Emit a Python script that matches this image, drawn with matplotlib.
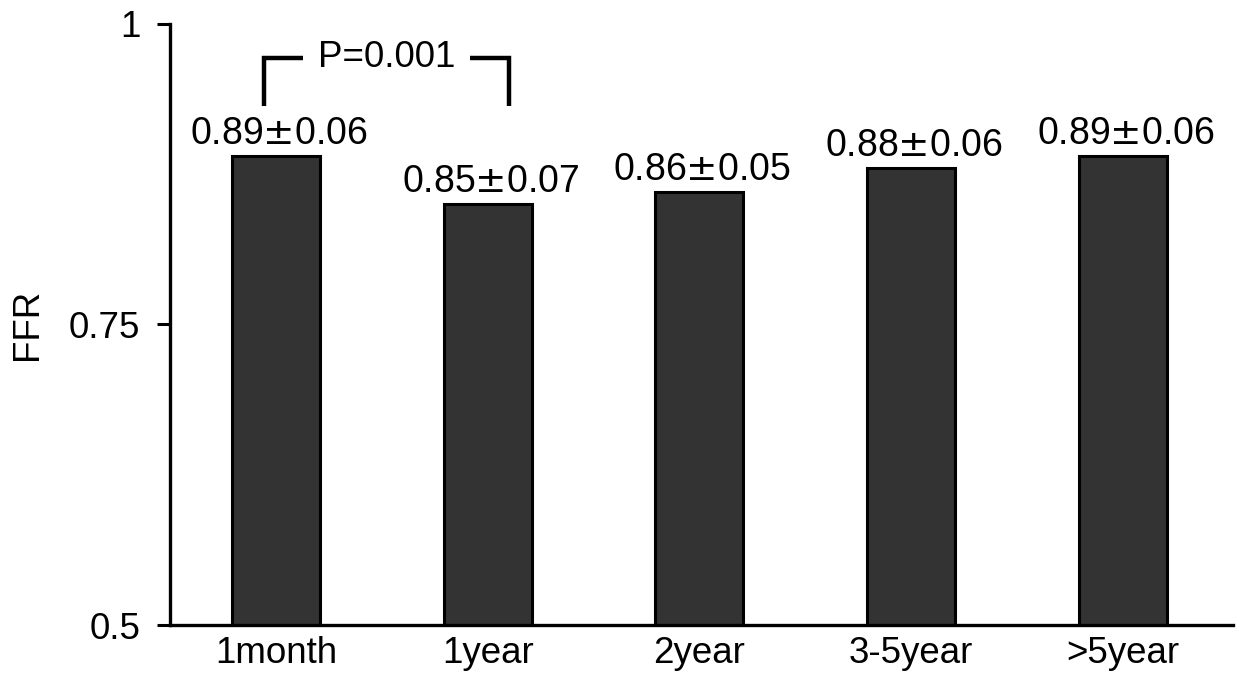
import matplotlib
matplotlib.use('Agg')
import matplotlib.pyplot as plt

plt.rcParams['font.family'] = ['Liberation Sans', 'DejaVu Sans']
plt.rcParams['mathtext.fontset'] = 'dejavusans'

groups = ['1month', '1year', '2year', '3-5year', '>5year']
ffr_mean = [0.89, 0.85, 0.86, 0.88, 0.89]
ffr_sd = [0.06, 0.07, 0.05, 0.06, 0.06]
yticks = [0.5, 0.75, 1.0]
ytick_labels = ['0.5', '0.75', '1']
p_text = 'P=0.001'

fs = 26.5

fig = plt.figure(figsize=(12.44, 6.79), dpi=100)
ax = fig.add_axes([0.1367, 0.0795, 0.8544, 0.8852])

x = list(range(len(groups)))
ax.bar(x, ffr_mean, width=0.415, color='#333333', edgecolor='black',
       linewidth=2.2, zorder=2)

for i, (m, s) in enumerate(zip(ffr_mean, ffr_sd)):
    ax.annotate('{:.2f}$\\pm${:.2f}'.format(m, s), xy=(i, m),
                xytext=(2, 3), textcoords='offset points',
                ha='center', va='bottom', fontsize=27)

# significance bracket between 1month and 1year
bl, br, by_top, by_bot = -0.057, 1.10, 0.972, 0.932
gap_l, gap_r = 0.127, 0.915
lw = 3.2
ax.plot([bl, bl, gap_l], [by_bot, by_top, by_top], color='black', lw=lw,
        solid_capstyle='butt', solid_joinstyle='miter', clip_on=False)
ax.plot([gap_r, br, br], [by_top, by_top, by_bot], color='black', lw=lw,
        solid_capstyle='butt', solid_joinstyle='miter', clip_on=False)
ax.text((gap_l + gap_r) / 2, by_top, p_text, ha='center', va='center',
        fontsize=fs)

ax.set_xlim(-0.5, 4.52)
ax.set_ylim(0.5, 1.0)
ax.set_yticks(yticks)
ax.set_yticklabels(ytick_labels)
ax.set_xticks(x)
ax.set_xticklabels(groups)
ax.tick_params(axis='y', direction='out', length=9.5, width=2.2,
               labelsize=fs, pad=12)
ax.tick_params(axis='x', length=0, labelsize=fs, pad=8)
ax.set_ylabel('FFR', fontsize=fs)
ax.yaxis.set_label_coords(-0.118, 0.5)

for side in ['top', 'right']:
    ax.spines[side].set_visible(False)
for side in ['left', 'bottom']:
    ax.spines[side].set_linewidth(2.4)

fig.savefig('out.png', dpi=100)
